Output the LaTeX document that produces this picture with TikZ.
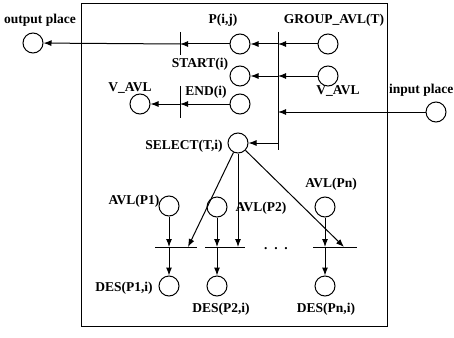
\documentclass[tikz,border=0pt]{standalone}
\usepackage{fontspec}
\setmainfont{Liberation Serif}
\usetikzlibrary{arrows.meta}
\begin{document}
\begin{tikzpicture}[x=1pt,y=-1pt,
  place/.style={draw,circle,minimum size=20pt,inner sep=0pt,line width=1pt},
  lbl/.style={font=\bfseries\fontsize{13.5}{15}\selectfont,inner sep=0pt},
  arr/.style={-{Latex[length=8pt,width=6pt]},line width=1pt},
  barline/.style={line width=1pt}]
\useasboundingbox (0,0) rectangle (454,337);
\draw[line width=1pt] (81,4) rectangle (387,326);
% places
\node[place] (outp) at (33,43) {};
\node[place] (pij) at (240,44) {};
\node[place] (grp) at (328,44) {};
\node[place] (start) at (240,76) {};
\node[place] (vavr) at (328,76) {};
\node[place] (endp) at (240,104) {};
\node[place] (vavl) at (140,104) {};
\node[place] (inp) at (436,112) {};
\node[place] (sel) at (238,143) {};
\node[place] (a1) at (169,206) {};
\node[place] (a2) at (217,207) {};
\node[place] (an) at (325,207) {};
\node[place] (d1) at (169,286) {};
\node[place] (d2) at (217,286) {};
\node[place] (dn) at (325,286) {};
% transitions
\coordinate (t1a) at (180,32); \coordinate (t1b) at (180,55);
\coordinate (t2a) at (180,86); \coordinate (t2b) at (180,118);
\coordinate (t3a) at (278,32); \coordinate (t3b) at (278,150);
\coordinate (b1a) at (155,247); \coordinate (b1b) at (197,247);
\coordinate (b2a) at (205,247); \coordinate (b2b) at (245,247);
\coordinate (bna) at (313,247); \coordinate (bnb) at (357,247);
\draw[barline] (t1a) -- (t1b);
\draw[barline] (t2a) -- (t2b);
\draw[barline] (t3a) -- (t3b);
\draw[barline] (b1a) -- (b1b);
\draw[barline] (b2a) -- (b2b);
\draw[barline] (bna) -- (bnb);
% arcs
\draw[arr] (grp) -- (grp -| t3a);
\draw[arr] (grp -| t3a) -- (pij);
\draw[arr] (pij) -- (pij -| t1a);
\draw[arr] (pij -| t1a) -- (outp);
\draw[arr] (vavr) -- (vavr -| t3a);
\draw[arr] (vavr -| t3a) -- (start);
\draw[arr] (endp) -- (endp -| t2a);
\draw[arr] (endp -| t2a) -- (vavl);
\draw[arr] (inp) -- (inp -| t3a);
\draw[arr] (sel -| t3a) -- (sel);
\coordinate (s1) at (188,247);
\coordinate (sn) at (344,247);
\draw[arr] (sel) -- (s1);
\draw[arr] (sel.south) -- (sel.south |- b2a);
\draw[arr] (sel) -- (sn);
\draw[arr] (a1) -- (a1 |- b1a);
\draw[arr] (a1 |- b1a) -- (d1);
\draw[arr] (a2) -- (a2 |- b2a);
\draw[arr] (a2 |- b2a) -- (d2);
\draw[arr] (an) -- (an |- bna);
\draw[arr] (an |- bna) -- (dn);
% labels
\node[lbl] (l1) at (40,20) {output place};
\node[lbl] (l2) at (223,20) {P(i,j)};
\node[lbl] (l3) at (334,20) {GROUP\_AVL(T)};
\node[lbl] (l4) at (200,64) {START(i)};
\node[lbl] (l5) at (130,88) {V\_AVL};
\node[lbl] (l6) at (206,92) {END(i)};
\node[lbl] (l7) at (338,91) {V\_AVL};
\node[lbl,anchor=east] (l8) at (453.5,90) {input place};
\node[lbl] (l9) at (184,146) {SELECT(T,i)};
\node[lbl] (l10) at (134,201) {AVL(P1)};
\node[lbl] (l11) at (261,208) {AVL(P2)};
\node[lbl] (l12) at (331,184) {AVL(Pn)};
\node[lbl] (l13) at (124,288) {DES(P1,i)};
\node[lbl] (l14) at (221,309) {DES(P2,i)};
\node[lbl] (l15) at (326,309) {DES(Pn,i)};
\node[lbl] (dots) at (276,249) {.\ \ .\ \ .};
\end{tikzpicture}
\end{document}
